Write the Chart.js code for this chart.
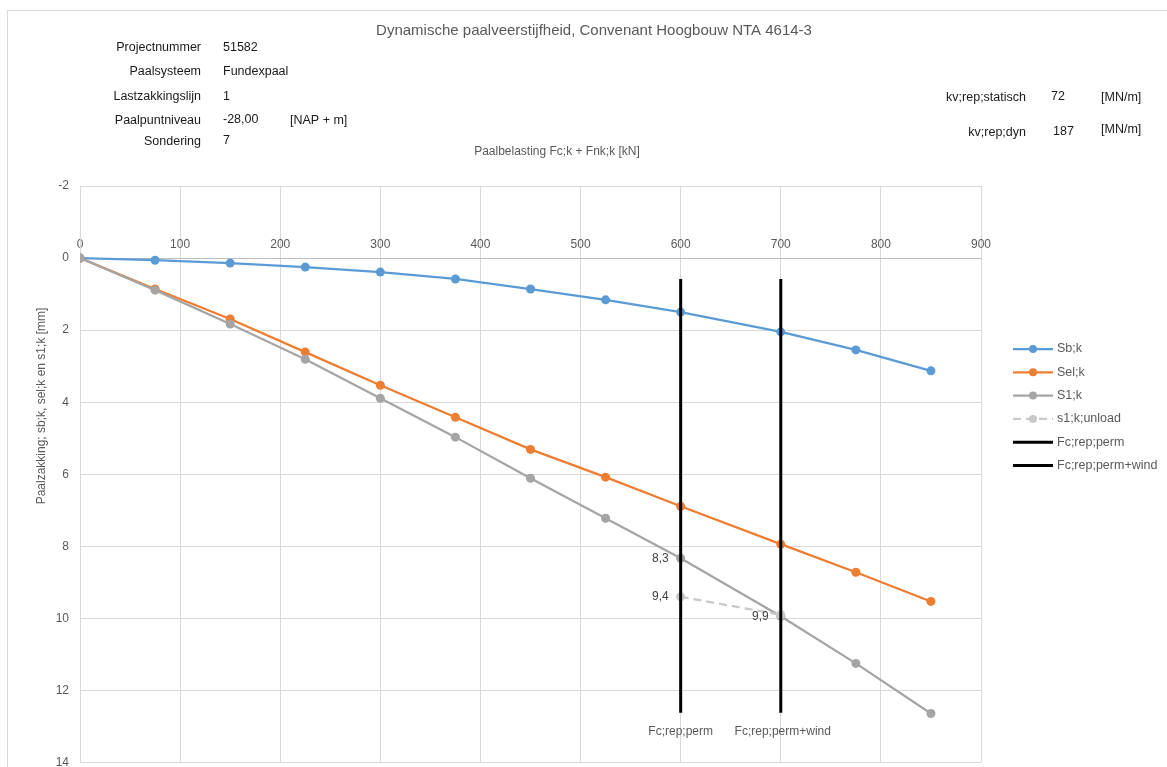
<!DOCTYPE html>
<html>
<head>
<meta charset="utf-8">
<script src="https://cdn.jsdelivr.net/npm/chart.js@4/dist/chart.umd.min.js"></script>
<style>
    body { margin: 0; background: #fff; }
    #chart { display: block; }
</style>
</head>
<body>
<canvas id="chart" width="1167" height="767"></canvas>
<script>
// Data ==========================
const loads = [0, 75, 150, 225, 300, 375, 450, 525, 600, 700, 775, 850];
const sbK = [0, 0.06, 0.14, 0.25, 0.39, 0.58, 0.86, 1.16, 1.5, 2.05, 2.55, 3.13];
const selK = [0, 0.86, 1.69, 2.61, 3.53, 4.42, 5.31, 6.08, 6.89, 7.94, 8.72, 9.53];
const s1K = [0, 0.89, 1.83, 2.81, 3.89, 4.97, 6.11, 7.22, 8.33, 9.94, 11.25, 12.64];
const unloadLoads = [600, 700];
const s1Unload = [9.4, 9.9];
const markerLoads = [600, 700];
const markerNames = ["Fc;rep;perm", "Fc;rep;perm+wind"];
const markerRange = [0.58, 12.62];
const markerLabelAt = 13.15;

const xTickValues = [0, 100, 200, 300, 400, 500, 600, 700, 800, 900];
const yTickValues = [-2, 0, 2, 4, 6, 8, 10, 12, 14];

const infoLabels = ["Projectnummer", "Paalsysteem", "Lastzakkingslijn", "Paalpuntniveau", "Sondering"];
const infoValues = ["51582", "Fundexpaal", "1", "-28,00", "7"];
const kvLabels = ["kv;rep;statisch", "kv;rep;dyn"];
const kvValues = ["72", "187"];

const chartTitle = "Dynamische paalveerstijfheid, Convenant Hoogbouw NTA 4614-3";
const xTitle = "Paalbelasting Fc;k + Fnk;k [kN]";
const yTitle = "Paalzakking; sb;k, sel;k en s1;k [mm]";

const BLUE = "#5B9BD5", ORANGE = "#ED7D31", GREY = "#A5A5A5", LIGHT = "#C9C9C9";
const FONT = "'Liberation Sans', Arial, sans-serif";

function toPoints(xs, ys) {
    return xs.map((x, i) => ({ x: x, y: ys[i] }));
}
function fmt(v) {
    return v.toFixed(1).replace(".", ",");
}

// Datasets ==========================
const datasets = [
    { label: "Sb;k", data: toPoints(loads, sbK), borderColor: BLUE, backgroundColor: BLUE, order: 5 },
    { label: "Sel;k", data: toPoints(loads, selK), borderColor: ORANGE, backgroundColor: ORANGE, order: 4 },
    { label: "S1;k", data: toPoints(loads, s1K), borderColor: GREY, backgroundColor: GREY, order: 3 },
    { label: "s1;k;unload", data: toPoints(unloadLoads, s1Unload), borderColor: LIGHT, backgroundColor: LIGHT,
      borderDash: [8, 5], order: 2 }
];
markerLoads.forEach((x, i) => {
    datasets.push({
        label: markerNames[i],
        data: [{ x: x, y: markerRange[0] }, { x: x, y: markerRange[1] }],
        borderColor: "#000", backgroundColor: "#000", borderWidth: 3, pointRadius: 0, order: 1
    });
});
datasets.forEach(d => {
    if (d.borderWidth === undefined) d.borderWidth = 2.25;
    if (d.pointRadius === undefined) d.pointRadius = 4.5;
    d.pointBorderWidth = 0;
    d.tension = 0;
});

// Text / legend plugin ==========================
const annotate = {
    id: "annotate",
    beforeDraw(chart) {
        const ctx = chart.ctx;
        ctx.save();
        ctx.fillStyle = "#fff";
        ctx.fillRect(0, 0, chart.width, chart.height);
        ctx.strokeStyle = "#d9d9d9";
        ctx.lineWidth = 1;
        ctx.strokeRect(7.5, 10.5, chart.width, chart.height);
        ctx.restore();
    },
    afterDraw(chart) {
        const ctx = chart.ctx;
        const xs = chart.scales.x, ys = chart.scales.y;
        ctx.save();
        ctx.textBaseline = "middle";

        // title
        ctx.font = "15px " + FONT;
        ctx.fillStyle = "#595959";
        ctx.textAlign = "center";
        ctx.fillText(chartTitle, 594, 31);

        // axis titles
        ctx.font = "12px " + FONT;
        ctx.fillText(xTitle, 557, 152);
        ctx.save();
        ctx.translate(42, 406);
        ctx.rotate(-Math.PI / 2);
        ctx.fillText(yTitle, 0, 0);
        ctx.restore();

        // project info
        ctx.font = "12.5px " + FONT;
        ctx.fillStyle = "#1a1a1a";
        const rows = [48, 72, 97, 121, 142];
        infoLabels.forEach((t, i) => {
            ctx.textAlign = "right";
            ctx.fillText(t, 201, rows[i]);
            ctx.textAlign = "left";
            ctx.fillText(infoValues[i], 223, rows[i] - (i >= 3 ? 1.5 : 0));
        });
        ctx.fillText("[NAP + m]", 290, 121);
        const kvRows = [98, 133];
        kvLabels.forEach((t, i) => {
            ctx.textAlign = "right";
            ctx.fillText(t, 1026, kvRows[i]);
            ctx.textAlign = "left";
            ctx.fillText(kvValues[i], 1051 + i * 2, kvRows[i] - 1);
            ctx.fillText("[MN/m]", 1101, kvRows[i] - (i ? 3 : 0));
        });

        // data labels
        ctx.font = "12px " + FONT;
        ctx.fillStyle = "#404040";
        ctx.textAlign = "right";
        const i600 = loads.indexOf(600);
        ctx.fillText(fmt(s1K[i600]), xs.getPixelForValue(600) - 12, ys.getPixelForValue(s1K[i600]));
        ctx.fillText(fmt(s1Unload[0]), xs.getPixelForValue(unloadLoads[0]) - 12, ys.getPixelForValue(s1Unload[0]));
        ctx.fillText(fmt(s1Unload[1]), xs.getPixelForValue(unloadLoads[1]) - 12, ys.getPixelForValue(s1Unload[1]) + 2);

        // marker labels
        ctx.textAlign = "center";
        ctx.fillStyle = "#595959";
        markerLoads.forEach((x, i) => {
            ctx.fillText(markerNames[i], xs.getPixelForValue(x) + i * 2, ys.getPixelForValue(markerLabelAt));
        });

        // legend
        ctx.font = "12.5px " + FONT;
        ctx.textAlign = "left";
        datasets.forEach((d, i) => {
            const ly = 349 + i * 23.3;
            ctx.strokeStyle = d.borderColor;
            ctx.lineWidth = d.borderWidth;
            ctx.setLineDash(d.borderDash || []);
            ctx.beginPath();
            ctx.moveTo(1013, ly);
            ctx.lineTo(1053, ly);
            ctx.stroke();
            ctx.setLineDash([]);
            if (d.pointRadius) {
                ctx.fillStyle = d.backgroundColor;
                ctx.beginPath();
                ctx.arc(1033, ly, 4, 0, Math.PI * 2);
                ctx.fill();
            }
            ctx.fillStyle = "#595959";
            ctx.fillText(d.label, 1057, ly);
        });
        ctx.restore();
    }
};

// Chart Setup ==========================
const ctx = document.getElementById("chart").getContext("2d");
const chart = new Chart(ctx, {
    type: "line",
    data: { datasets: datasets },
    options: {
        responsive: false,
        animation: false,
        devicePixelRatio: 1,
        layout: { padding: { left: 0, right: 186, top: 186, bottom: 4 } },
        plugins: { legend: { display: false }, tooltip: { enabled: false } },
        scales: {
            x: {
                type: "linear",
                position: { y: 0 },
                min: xTickValues[0],
                max: xTickValues[xTickValues.length - 1],
                afterBuildTicks: s => { s.ticks = xTickValues.map(v => ({ value: v })); },
                afterFit: s => { s.height = 0; s.paddingTop = 0; s.paddingBottom = 0; },
                grid: { color: "#d9d9d9", drawTicks: false },
                border: { color: "#bfbfbf" },
                ticks: { color: "#595959", font: { family: FONT, size: 12 }, padding: -21, maxRotation: 0 }
            },
            y: {
                type: "linear",
                reverse: true,
                min: yTickValues[0],
                max: yTickValues[yTickValues.length - 1],
                afterBuildTicks: s => { s.ticks = yTickValues.map(v => ({ value: v })); },
                afterFit: s => { s.width = 80; s.paddingTop = 0; s.paddingBottom = 0; },
                grid: { color: "#d9d9d9", drawTicks: false },
                border: { color: "#d9d9d9" },
                ticks: { color: "#595959", font: { family: FONT, size: 12 }, padding: 11 }
            }
        }
    },
    plugins: [annotate]
});
</script>
</body>
</html>
